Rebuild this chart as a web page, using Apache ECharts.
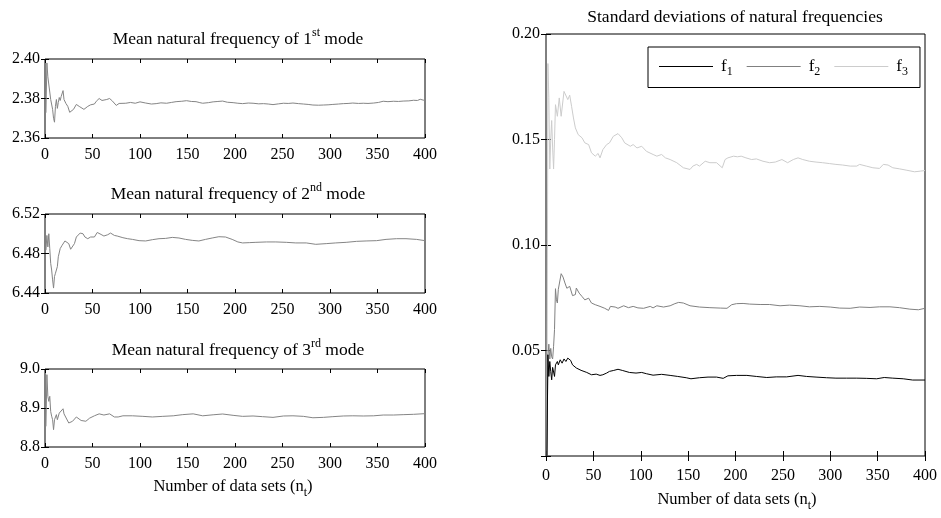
<!DOCTYPE html>
<html>
<head>
<meta charset="utf-8">
<script src="https://cdn.jsdelivr.net/npm/echarts@6/dist/echarts.min.js"></script>
<style>html,body{margin:0;padding:0;background:#fff}#c{width:941px;height:518px}</style>
</head>
<body>
<div id="c"></div>
<script>
// ---- data ----
const xTicks = [0, 50, 100, 150, 200, 250, 300, 350, 400];
const m1Ticks = ['2.36', '2.38', '2.40'];
const m2Ticks = ['6.44', '6.48', '6.52'];
const m3Ticks = ['8.8', '8.9', '9.0'];
const sdTicks = ['', '0.05', '0.10', '0.15', '0.20'];

const m1N = [1,2,3,4,5,6,7,8,9,10,11,12,13,14,15,16,17,18,19,20,22,24,26,28,30,33,36,38,41,43,45,48,50,52,54,57,60,62,65,68,71,73,75,78,80,85,90,95,100,106,112,117,122,128,133,138,144,149,154,159,163,166,172,177,182,187,192,198,203,208,214,219,225,230,235,240,246,251,256,261,267,272,277,282,288,293,298,303,309,314,319,324,330,335,340,346,351,356,361,367,372,377,383,388,392,395,398,400];
const m1V = [2.3728,2.3980,2.3910,2.3900,2.3920,2.3795,2.3800,2.3745,2.3700,2.3680,2.3760,2.3795,2.3750,2.3780,2.3805,2.3790,2.3810,2.3800,2.3840,2.3795,2.3775,2.3760,2.3730,2.3735,2.3745,2.3770,2.3760,2.3750,2.3745,2.3738,2.3760,2.3768,2.3778,2.3772,2.3786,2.3800,2.3790,2.3787,2.3795,2.3800,2.3787,2.3780,2.3765,2.3775,2.3779,2.3776,2.3780,2.3776,2.3783,2.3777,2.3772,2.3774,2.3778,2.3776,2.3780,2.3784,2.3786,2.3789,2.3785,2.3784,2.3779,2.3776,2.3779,2.3783,2.3785,2.3787,2.3781,2.3779,2.3776,2.3774,2.3777,2.3776,2.3773,2.3774,2.3772,2.3769,2.3773,2.3776,2.3775,2.3777,2.3774,2.3772,2.3770,2.3767,2.3766,2.3767,2.3768,2.3770,2.3772,2.3774,2.3775,2.3777,2.3775,2.3776,2.3775,2.3777,2.3780,2.3786,2.3784,2.3786,2.3785,2.3787,2.3788,2.3791,2.3790,2.3796,2.3792,2.3790];

const m2N = [1,2,3,4,5,6,7,8,9,10,11,12,13,14,16,18,20,21,23,25,27,28,31,33,35,37,40,42,45,48,52,55,59,62,66,69,73,76,82,87,92,99,106,113,120,127,134,141,148,155,162,169,176,183,190,197,203,208,215,222,233,243,254,264,275,285,296,306,317,328,338,349,359,370,380,391,400];
const m2V = [6.4833,6.4983,6.4867,6.5000,6.4850,6.4700,6.4633,6.4533,6.4450,6.4567,6.4600,6.4633,6.4667,6.4767,6.4850,6.4883,6.4893,6.4927,6.4933,6.4900,6.4843,6.4850,6.4900,6.4967,6.4983,6.5007,6.5000,6.4967,6.4950,6.4967,6.4967,6.5013,6.4993,6.4977,6.4990,6.5007,6.4983,6.4977,6.4960,6.4950,6.4943,6.4930,6.4927,6.4940,6.4950,6.4953,6.4963,6.4957,6.4943,6.4933,6.4927,6.4943,6.4957,6.4970,6.4967,6.4943,6.4917,6.4907,6.4910,6.4913,6.4917,6.4917,6.4913,6.4907,6.4907,6.4893,6.4900,6.4907,6.4913,6.4923,6.4927,6.4930,6.4943,6.4950,6.4950,6.4943,6.4930];

const m3N = [1,2,3,4,5,6,7,8,9,10,12,13,15,17,19,20,22,25,29,33,38,43,47,52,57,62,68,73,77,82,92,103,113,124,135,145,156,166,177,187,198,208,219,229,240,251,261,272,282,293,303,314,324,335,346,356,367,377,388,400];
const m3V = [8.853,8.9855,8.930,8.917,8.930,8.891,8.879,8.870,8.8444,8.870,8.883,8.870,8.887,8.891,8.898,8.885,8.880,8.8615,8.866,8.877,8.868,8.866,8.874,8.880,8.885,8.882,8.885,8.877,8.877,8.880,8.880,8.8786,8.877,8.8786,8.880,8.883,8.885,8.880,8.8826,8.8846,8.8812,8.8786,8.8795,8.8778,8.876,8.8795,8.880,8.8786,8.875,8.876,8.8778,8.8795,8.880,8.8795,8.880,8.882,8.882,8.8829,8.8838,8.8855];

const f1N = [1,2,3,4,5,6,7,8,9,10,12,13,15,17,19,21,23,26,28,32,37,43,48,53,57,60,62,64,67,71,76,81,88,95,101,106,113,122,131,139,148,153,162,171,180,187,192,201,212,222,233,243,254,266,275,285,296,306,317,328,338,349,357,366,377,387,400];
const f1V = [0,0.048,0.0377,0.0448,0.040,0.0361,0.042,0.0424,0.0377,0.0432,0.0448,0.0432,0.0456,0.044,0.046,0.0448,0.0464,0.0453,0.0432,0.0417,0.0406,0.0396,0.0385,0.0388,0.0382,0.0385,0.0380,0.0393,0.0401,0.0405,0.0411,0.0405,0.0396,0.0393,0.0396,0.0390,0.0383,0.0387,0.0382,0.0377,0.0371,0.0366,0.0371,0.0374,0.0374,0.0368,0.0380,0.0382,0.0382,0.0377,0.0372,0.0375,0.0375,0.0382,0.0377,0.0374,0.0371,0.0369,0.0369,0.0369,0.0368,0.0366,0.0372,0.0369,0.0366,0.0360,0.0360];

const f2N = [1,2,3,4,5,6,7,8,9,10,11,12,13,14,16,18,20,22,24,25,28,31,32,35,38,41,45,48,52,57,62,66,68,73,76,82,87,92,97,103,110,113,117,124,131,136,140,145,152,162,173,184,191,196,201,208,215,226,236,247,257,268,278,289,300,310,321,331,342,352,363,373,384,393,400];
const f2V = [0,0.047,0.053,0.046,0.051,0.047,0.046,0.052,0.060,0.0793,0.0740,0.0725,0.0790,0.0796,0.0864,0.0848,0.082,0.0795,0.0788,0.0804,0.076,0.0765,0.0796,0.0772,0.0756,0.074,0.0748,0.0725,0.0717,0.0709,0.070,0.069,0.0709,0.0706,0.0700,0.0712,0.0703,0.0709,0.0702,0.0700,0.0709,0.0702,0.0712,0.0706,0.0712,0.0722,0.0728,0.0725,0.0712,0.0706,0.0703,0.0701,0.0700,0.0717,0.0722,0.0723,0.0720,0.0718,0.0718,0.0712,0.0715,0.0712,0.0707,0.0709,0.0706,0.0701,0.0700,0.0706,0.0704,0.0707,0.0707,0.0703,0.0696,0.0693,0.0700];

const f3N = [1,2,3,4,5,6,7,8,9,10,12,14,16,19,21,23,25,27,29,31,34,38,41,45,48,52,55,57,60,64,67,71,76,80,83,89,92,96,101,106,113,117,122,126,131,138,145,152,155,159,162,168,173,180,186,189,192,198,202,206,211,217,222,229,236,242,249,255,261,266,271,278,285,292,299,306,313,321,328,331,338,345,352,356,361,366,373,380,389,395,400];
const f3V = [0,0.186,0.170,0.136,0.150,0.159,0.146,0.136,0.150,0.1665,0.161,0.1697,0.161,0.1728,0.1725,0.1689,0.171,0.1657,0.1602,0.1555,0.1523,0.1508,0.1484,0.1476,0.1437,0.1421,0.1434,0.1413,0.1452,0.1476,0.1484,0.1515,0.1528,0.1508,0.1484,0.1468,0.1476,0.146,0.1468,0.1444,0.1429,0.1421,0.1429,0.1413,0.1405,0.139,0.1366,0.1358,0.1374,0.1382,0.1374,0.1397,0.139,0.139,0.1366,0.1405,0.1413,0.1421,0.1418,0.1421,0.1413,0.1405,0.1408,0.1397,0.139,0.1393,0.1405,0.139,0.1405,0.1413,0.1405,0.1397,0.1393,0.139,0.1386,0.1382,0.1379,0.1374,0.1374,0.1382,0.1374,0.1366,0.1363,0.1382,0.1379,0.1366,0.1361,0.1355,0.1347,0.1350,0.1353];

const leftTitles = ['Mean natural frequency of 1{sup|st} mode', 'Mean natural frequency of 2{sup|nd} mode', 'Mean natural frequency of 3{sup|rd} mode'];
const rightTitle = 'Standard deviations of natural frequencies';
const xName = 'Number of data sets (n{sub|t})';
const seriesNames = ['f1', 'f2', 'f3'];

// ---- chart ----
const FONT = 'Liberation Serif';
const pair = (n, v) => n.map((x, i) => [x, v[i]]);

const grids = [
  {left: 45, top: 59, width: 380, height: 79},
  {left: 45, top: 214, width: 380, height: 79},
  {left: 45, top: 369, width: 380, height: 78},
  {left: 546, top: 34, width: 379, height: 422}
].map(g => Object.assign({show: true, borderColor: '#000', borderWidth: 1, backgroundColor: '#fff'}, g));

const yCfg = [
  {min: 2.36, max: 2.40, interval: 0.02, labels: m1Ticks},
  {min: 6.44, max: 6.52, interval: 0.04, labels: m2Ticks},
  {min: 8.8, max: 9.0, interval: 0.1, labels: m3Ticks},
  {min: 0, max: 0.20, interval: 0.05, labels: sdTicks}
];

const labelStyle = {color: '#000', fontFamily: FONT, fontSize: 16};
const xAxes = [], yAxes = [];
for (let g = 0; g < 4; g++) {
  const tickLen = g === 3 ? 5 : 4;
  const base = {type: 'value', gridIndex: g, min: xTicks[0], max: xTicks[xTicks.length - 1], interval: xTicks[1] - xTicks[0],
    splitLine: {show: false}, axisLine: {show: false}};
  xAxes.push(Object.assign({}, base, {position: 'bottom',
    axisTick: {inside: true, length: tickLen, lineStyle: {color: '#000'}},
    axisLabel: Object.assign({margin: g === 3 ? 12 : 9}, labelStyle)}));
  xAxes.push(Object.assign({}, base, {position: 'top',
    axisTick: {inside: true, length: tickLen, lineStyle: {color: '#000'}},
    axisLabel: {show: false}}));
  const yc = yCfg[g];
  const ybase = {type: 'value', gridIndex: g, min: yc.min, max: yc.max, interval: yc.interval,
    splitLine: {show: false}, axisLine: {show: false}};
  yAxes.push(Object.assign({}, ybase, {position: 'left',
    axisTick: {inside: true, length: tickLen, lineStyle: {color: '#000'}},
    axisLabel: Object.assign({margin: g === 3 ? 6 : 5, formatter: (v) => {
      const idx = Math.round((v - yc.min) / yc.interval);
      return yc.labels[idx] !== undefined ? yc.labels[idx] : '';
    }}, labelStyle)}));
  yAxes.push(Object.assign({}, ybase, {position: 'right',
    axisTick: {inside: true, length: tickLen, lineStyle: {color: '#000'}},
    axisLabel: {show: false}}));
}

const lineSeries = (name, data, g, color) => ({
  name, type: 'line', data, xAxisIndex: g * 2, yAxisIndex: g * 2,
  symbol: 'none', showSymbol: false, lineStyle: {width: 1, color}, itemStyle: {color}, z: 3,
  animation: false
});

const series = [
  lineSeries('m1', pair(m1N, m1V), 0, '#858585'),
  lineSeries('m2', pair(m2N, m2V), 1, '#858585'),
  lineSeries('m3', pair(m3N, m3V), 2, '#858585'),
  lineSeries(seriesNames[2], pair(f3N, f3V), 3, '#cccccc'),
  lineSeries(seriesNames[1], pair(f2N, f2V), 3, '#808080'),
  lineSeries(seriesNames[0], pair(f1N, f1V), 3, '#000000')
];

const richTitle = {
  sup: {fontSize: 12, lineHeight: 12, verticalAlign: 'top', fontFamily: FONT, fill: '#000'},
  sub: {fontSize: 12, lineHeight: 12, verticalAlign: 'bottom', fontFamily: FONT, fill: '#000'}
};
const textEl = (text, x, y, size) => ({
  type: 'text', x, y, silent: true,
  style: {text, fontFamily: FONT, fontSize: size, lineHeight: 24, fill: '#000', align: 'center', verticalAlign: 'middle', rich: richTitle}
});

const graphic = [
  textEl(leftTitles[0], 238, 39, 17.5),
  textEl(leftTitles[1], 238, 194, 17.5),
  textEl(leftTitles[2], 238, 350, 17.5),
  textEl(rightTitle, 735, 17, 17.5),
  textEl(xName, 233, 487, 16.5),
  textEl(xName, 737, 500, 16.5)
];

const chart = echarts.init(document.getElementById('c'), null, {renderer: 'canvas'});
chart.setOption({
  animation: false,
  backgroundColor: '#fff',
  grid: grids,
  xAxis: xAxes,
  yAxis: yAxes,
  series,
  graphic,
  legend: {
    data: seriesNames,
    left: 648, top: 47,
    orient: 'horizontal',
    backgroundColor: '#fff',
    borderColor: '#000', borderWidth: 1,
    padding: [11, 12, 10, 11],
    icon: 'rect',
    itemWidth: 54, itemHeight: 1, itemGap: 14,
    formatter: (name) => '{f|f}{s|' + name.slice(1) + '}',
    textStyle: {
      color: '#000', fontFamily: FONT, fontSize: 17,
      rich: {
        f: {fontSize: 17, lineHeight: 22, fontFamily: FONT, color: '#000', padding: [0, 0, 0, 3]},
        s: {fontSize: 12, lineHeight: 12, verticalAlign: 'bottom', fontFamily: FONT, color: '#000'}
      }
    }
  }
});
</script>
</body>
</html>
